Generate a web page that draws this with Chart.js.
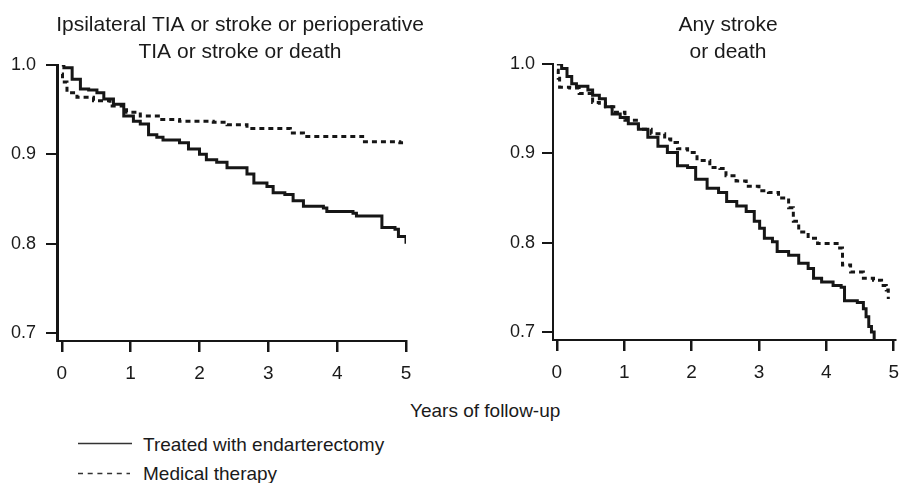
<!DOCTYPE html>
<html>
<head>
<meta charset="utf-8">
<title>Endarterectomy vs medical therapy</title>
<script src="https://cdn.jsdelivr.net/npm/chart.js@4"></script>
<style>
  body { margin: 0; background: #fff; }
  #page { position: relative; width: 909px; height: 483px; overflow: hidden;
          font-family: "Liberation Sans", Arial, sans-serif; color: #1a1a1a; }
  canvas { position: absolute; top: 0; }
  #chart-left { left: 0; }
  #chart-right { left: 490px; }
  .txt { position: absolute; font-size: 19px; line-height: 19px; white-space: nowrap; }
  .key { position: absolute; }
</style>
</head>
<body>
<div id="page">
  <canvas id="chart-left" width="440" height="390"></canvas>
  <canvas id="chart-right" width="419" height="390"></canvas>
  <div class="txt" id="x-title" style="left:410px; top:401px;">Years of follow-up</div>
  <svg class="key" style="left:76px; top:436px;" width="60" height="44">
    <line x1="2" y1="7.5" x2="56" y2="7.5" stroke="#333" stroke-width="1.6"/>
    <line x1="2" y1="37.5" x2="54" y2="37.5" stroke="#333" stroke-width="1.6" stroke-dasharray="5 4.7"/>
  </svg>
  <div class="txt" id="key-surgery" style="left:143px; top:435px;"></div>
  <div class="txt" id="key-medical" style="left:143px; top:464px;"></div>
</div>
<script>
// --- DATA ---
const seriesNames = ['Treated with endarterectomy', 'Medical therapy'];
const xTicks = [0, 1, 2, 3, 4, 5];
const yTicks = [0.7, 0.8, 0.9, 1.0];
const xAxisTitle = 'Years of follow-up';

// Ipsilateral TIA or stroke or perioperative TIA or stroke or death
const leftTitle = ['Ipsilateral TIA or stroke or perioperative', 'TIA or stroke or death'];
const leftSurgeryYears = [0, 0.03, 0.15, 0.27, 0.39, 0.51, 0.61, 0.75, 0.90, 1.04, 1.14, 1.26, 1.38, 1.47, 1.71, 1.84,
  2.00, 2.10, 2.25, 2.40, 2.69, 2.79, 2.98, 3.07, 3.24, 3.36, 3.51, 3.80, 3.85, 4.23, 4.28, 4.65, 4.84, 4.89, 5.0];
const leftSurgeryRate = [1.0, 0.997, 0.984, 0.973, 0.972, 0.969, 0.962, 0.956, 0.943, 0.937, 0.934, 0.922, 0.919, 0.916, 0.913, 0.906,
  0.900, 0.894, 0.891, 0.885, 0.878, 0.868, 0.864, 0.857, 0.855, 0.848, 0.842, 0.840, 0.836, 0.834, 0.831, 0.818, 0.816, 0.808, 0.800];
const leftMedicalYears = [0, 0.01, 0.075, 0.22, 0.46, 0.70, 0.94, 1.14, 1.43, 1.71, 2.20, 2.40, 2.69, 3.32, 3.51, 4.37, 4.91, 5.0];
const leftMedicalRate = [0.990, 0.981, 0.969, 0.964, 0.960, 0.954, 0.947, 0.943, 0.939, 0.937, 0.936, 0.933, 0.929, 0.924, 0.920, 0.914, 0.913, 0.913];

// Any stroke or death
const rightTitle = ['Any stroke', 'or death'];
const rightSurgeryYears = [0, 0.07, 0.15, 0.22, 0.29, 0.46, 0.53, 0.63, 0.72, 0.82, 0.94, 1.06, 1.21, 1.35, 1.50, 1.64, 1.79, 1.94,
  2.06, 2.23, 2.40, 2.52, 2.67, 2.81, 2.93, 3.01, 3.08, 3.20, 3.27, 3.44, 3.59, 3.73, 3.81, 3.93, 4.10, 4.22, 4.27, 4.46,
  4.55, 4.59, 4.63, 4.67, 4.71];
const rightSurgeryRate = [1.0, 0.995, 0.986, 0.978, 0.975, 0.971, 0.965, 0.961, 0.952, 0.944, 0.940, 0.933, 0.927, 0.918, 0.908, 0.901, 0.886, 0.884,
  0.871, 0.861, 0.856, 0.846, 0.841, 0.835, 0.824, 0.816, 0.805, 0.801, 0.790, 0.786, 0.777, 0.771, 0.760, 0.756, 0.752, 0.750, 0.735, 0.733,
  0.726, 0.717, 0.706, 0.700, 0.692];
const rightMedicalYears = [0, 0.02, 0.04, 0.19, 0.33, 0.53, 0.63, 0.72, 0.87, 1.01, 1.21, 1.40, 1.60, 1.69, 1.79, 1.94, 2.08, 2.27,
  2.42, 2.51, 2.66, 2.81, 3.00, 3.14, 3.29, 3.44, 3.51, 3.59, 3.73, 3.87, 4.16, 4.24, 4.36, 4.55, 4.70, 4.82, 4.89, 4.92];
const rightMedicalRate = [0.993, 0.984, 0.974, 0.973, 0.967, 0.957, 0.956, 0.952, 0.946, 0.937, 0.927, 0.922, 0.916, 0.912, 0.905, 0.901, 0.892, 0.884,
  0.883, 0.875, 0.869, 0.863, 0.858, 0.856, 0.850, 0.839, 0.824, 0.812, 0.805, 0.799, 0.794, 0.775, 0.767, 0.760, 0.758, 0.752, 0.747, 0.737];

// --- HELPERS ---
const INK = '#161616';
const FONT = '"Liberation Sans", Arial, sans-serif';

function toPoints(xs, ys) {
  return xs.map((x, i) => ({ x: x, y: ys[i] }));
}

// two-line heading drawn above each panel
const panelTitle = {
  id: 'panelTitle',
  afterDraw(chart, args, opts) {
    const ctx = chart.ctx;
    ctx.save();
    ctx.font = '21px ' + FONT;
    ctx.fillStyle = '#1a1a1a';
    ctx.textAlign = 'center';
    ctx.textBaseline = 'alphabetic';
    opts.lines.forEach((line, i) => ctx.fillText(line, opts.x, opts.y + i * 27.6));
    ctx.restore();
  }
};

function makePanel(canvasId, cfg) {
  const ctx = document.getElementById(canvasId).getContext('2d');
  return new Chart(ctx, {
    type: 'line',
    data: {
      datasets: [
        { label: seriesNames[0], data: toPoints(cfg.surgeryX, cfg.surgeryY),
          borderColor: INK, borderWidth: 3, stepped: true, pointRadius: 0 },
        { label: seriesNames[1], data: toPoints(cfg.medicalX, cfg.medicalY),
          borderColor: INK, borderWidth: 3, borderDash: [5, 4], stepped: true, pointRadius: 0 }
      ]
    },
    options: {
      responsive: false,
      animation: false,
      devicePixelRatio: 1,
      layout: { padding: { top: cfg.top, right: cfg.right, left: 0, bottom: 0 } },
      plugins: {
        legend: { display: false },
        tooltip: { enabled: false },
        panelTitle: { lines: cfg.title, x: cfg.titleX, y: 30.7 }
      },
      scales: {
        x: {
          type: 'linear',
          min: cfg.xMin, max: cfg.xMax,
          afterBuildTicks: (scale) => { scale.ticks = xTicks.map(v => ({ value: v })); },
          afterFit: (scale) => { scale.height = cfg.xHeight; },
          ticks: { color: '#1a1a1a', font: { family: FONT, size: 19 }, padding: 10, maxRotation: 0 },
          grid: { drawOnChartArea: false, drawTicks: true, tickLength: 11, lineWidth: 2.5, color: INK },
          border: { display: true, color: INK, width: 2 }
        },
        y: {
          type: 'linear',
          min: 0.691, max: 1.0,
          afterBuildTicks: (scale) => { scale.ticks = yTicks.map(v => ({ value: v })); },
          afterFit: (scale) => { scale.width = cfg.yWidth; },
          ticks: { color: '#1a1a1a', font: { family: FONT, size: 18 }, padding: cfg.yPad,
                   callback: (v) => v.toFixed(1) },
          grid: { drawOnChartArea: false, drawTicks: true, tickLength: 11, lineWidth: 2, color: INK },
          border: { display: true, color: INK, width: cfg.yBorder }
        }
      }
    },
    plugins: [panelTitle]
  });
}

window.addEventListener('DOMContentLoaded', () => {
  document.getElementById('x-title').innerText = xAxisTitle;
  document.getElementById('key-surgery').innerText = seriesNames[0];
  document.getElementById('key-medical').innerText = seriesNames[1];

  makePanel('chart-left', {
    title: leftTitle, titleX: 240,
    surgeryX: leftSurgeryYears, surgeryY: leftSurgeryRate,
    medicalX: leftMedicalYears, medicalY: leftMedicalRate,
    xMin: -0.07, xMax: 5, top: 65, right: 34, yWidth: 57, xHeight: 49, yBorder: 3, yPad: 10
  });
  makePanel('chart-right', {
    title: rightTitle, titleX: 238,
    surgeryX: rightSurgeryYears, surgeryY: rightSurgeryRate,
    medicalX: rightMedicalYears, medicalY: rightMedicalRate,
    xMin: -0.058, xMax: 5.02, top: 64, right: 6, yWidth: 63, xHeight: 50, yBorder: 2, yPad: 7
  });
});
</script>
</body>
</html>
